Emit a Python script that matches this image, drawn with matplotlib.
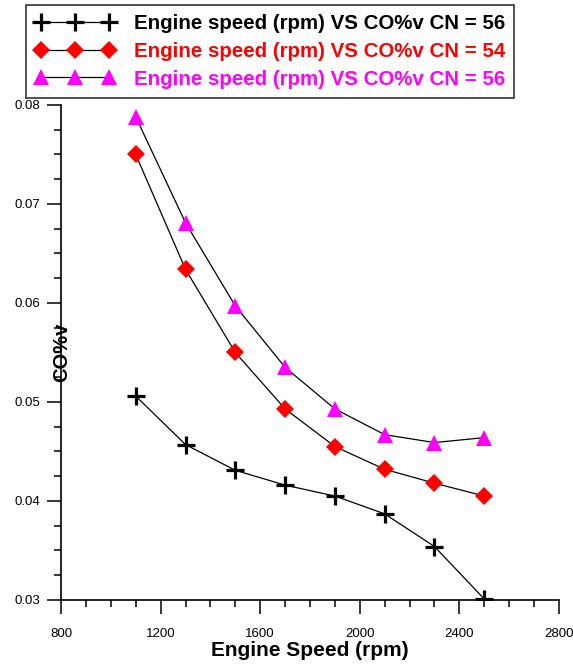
import matplotlib.pyplot as plt
from matplotlib.ticker import MultipleLocator, FormatStrFormatter

plt.rcParams['font.family'] = ['Liberation Sans', 'DejaVu Sans']

speed = [1100, 1300, 1500, 1700, 1900, 2100, 2300, 2500]
co_cn56 = [0.0506, 0.0457, 0.0431, 0.0416, 0.0405, 0.0387, 0.0354, 0.0301]
co_cn54 = [0.0750, 0.0634, 0.0550, 0.0493, 0.0455, 0.0432, 0.0418, 0.0405]
co_cn56b = [0.0788, 0.0681, 0.0597, 0.0535, 0.0493, 0.0467, 0.0459, 0.0464]

labels = ['Engine speed (rpm) VS CO%v CN = 56',
          'Engine speed (rpm) VS CO%v CN = 54',
          'Engine speed (rpm) VS CO%v CN = 56']
colors = ['black', '#ff0000', '#ff00ff']

fig = plt.figure(figsize=(5.73, 6.64), dpi=100)
ax = fig.add_axes([0.1065, 0.0964, 0.869, 0.7455])

ax.plot(speed, co_cn56, color='black', lw=0.9, marker='+', ms=13, mew=2.3,
        mec=colors[0], label=labels[0])
ax.plot(speed, co_cn54, color='black', lw=0.9, marker='D', ms=9, mew=0,
        mfc=colors[1], label=labels[1])
ax.plot(speed, co_cn56b, color='black', lw=0.9, marker='^', ms=11, mew=0,
        mfc=colors[2], label=labels[2])

ax.set_xlim(800, 2800)
ax.set_ylim(0.03, 0.08)
ax.xaxis.set_major_locator(MultipleLocator(400))
ax.xaxis.set_minor_locator(MultipleLocator(100))
ax.yaxis.set_major_locator(MultipleLocator(0.01))
ax.yaxis.set_minor_locator(MultipleLocator(0.0025))
ax.yaxis.set_major_formatter(FormatStrFormatter('%.2f'))

for s in ['top', 'right']:
    ax.spines[s].set_visible(False)
for s in ['left', 'bottom']:
    ax.spines[s].set_linewidth(1.2)

ax.tick_params(which='major', direction='out', length=10, width=1.1, labelsize=9.5, pad=5)
ax.tick_params(axis='x', which='major', pad=10)
ax.tick_params(which='minor', direction='out', length=5, width=1.1)

ax.set_xlabel('Engine Speed (rpm)', fontsize=15, fontweight='bold', labelpad=1)
ax.set_ylabel('CO%v', fontsize=14.5, fontweight='bold')
ax.yaxis.set_label_coords(0.02, 0.5)

leg = fig.legend(loc='upper left', bbox_to_anchor=(26 / 573, 1 - 5 / 664), numpoints=3,
                 prop={'weight': 'bold', 'size': 14.8},
                 fancybox=False, framealpha=1, edgecolor='#333333',
                 handlelength=3.9, handletextpad=0.9, labelspacing=0.42,
                 borderpad=0.45, borderaxespad=0)
leg.get_frame().set_linewidth(1.2)
for t, c in zip(leg.get_texts(), colors):
    t.set_color(c)

fig.savefig('out.png', dpi=100)
